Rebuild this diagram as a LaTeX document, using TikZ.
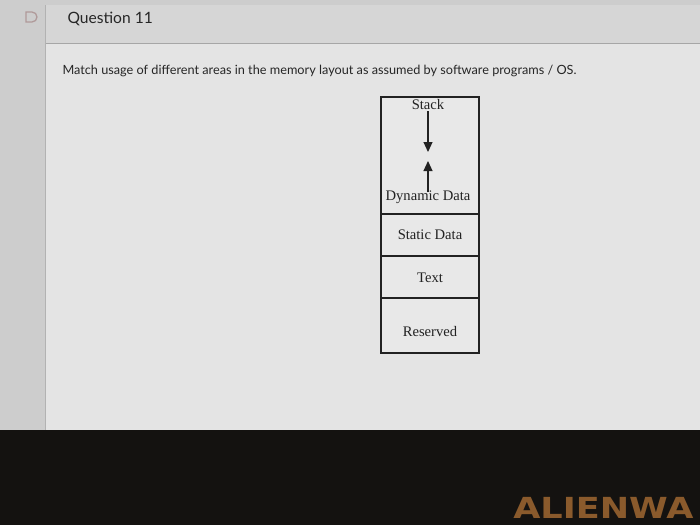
\documentclass[tikz,border=0pt]{standalone}
\usepackage{fontspec}
\setmainfont{Liberation Serif}
\newfontfamily\uifont{Lato}
\newfontfamily\logofont{DejaVu Sans}
\usetikzlibrary{arrows.meta}
\definecolor{screengray}{HTML}{CDCDCD}
\definecolor{headgray}{HTML}{D6D6D6}
\definecolor{bodygray}{HTML}{E4E4E4}
\definecolor{cellgray}{HTML}{E8E8E8}
\definecolor{bezel}{HTML}{141210}
\definecolor{logobrown}{HTML}{8A5A2C}
\definecolor{inktext}{HTML}{222222}
\definecolor{iconline}{HTML}{B09A9A}

\begin{document}
\begin{tikzpicture}[x=1pt,y=-1pt]
\tikzstyle{cell}=[draw=inktext, line width=1.2pt, fill=cellgray, minimum width=98pt, inner sep=0pt]
\tikzstyle{memtext}=[font=\fontsize{14.6}{16}\selectfont, text=inktext, inner sep=1pt]
\tikzstyle{growarrow}=[-{Triangle[width=9pt,length=10pt]}, draw=inktext, line width=1.1pt]

\useasboundingbox (0,0) rectangle (700,525);
\clip (0,0) rectangle (700,525);

% screen and bezel
\fill[screengray] (0,0) rectangle (700,430);
\fill[headgray] (45,5) rectangle (700,43);
\draw[gray!70, line width=0.8pt] (45,43) -- (700,43);
\draw[gray!60, line width=0.6pt] (45,5) -- (45,430);
\fill[bodygray] (46,44) rectangle (700,430);
\fill[bezel] (0,430) rectangle (700,525);

% header
\draw[iconline, line width=1.3pt] (26,12) -- (32,12) arc (-90:90:5) -- (26,22) -- cycle;
\node[anchor=west, font=\uifont\fontsize{15.6}{18}\selectfont, text=black!85] (title) at (64,19) {Question 11};
\node[anchor=west, font=\uifont\fontsize{12.7}{15}\selectfont, text=black!85] (prompt) at (59,71)
  {Match usage of different areas in the memory layout as assumed by software programs / OS.};

% memory layout
\node[cell, minimum height=117pt] (heap) at (430,155.5) {};
\node[cell, minimum height=42pt] (static) at (430,235) {};
\node[cell, minimum height=42pt] (text) at (430,277) {};
\node[cell, minimum height=55pt] (reserved) at (430,325.5) {};

\node[memtext] (stack) at (428,105) {Stack};
\node[memtext] (dyn) at (428,197) {Dynamic Data};
\node[memtext] (statictext) at (static) {Static Data};
\node[memtext] (texttext) at (430,278) {Text};
\node[memtext] (reservedtext) at (430,331) {Reserved};

\coordinate (downtip) at (428,152);
\coordinate (upbase) at (428,192);
\coordinate (uptip) at (428,161);
\draw[growarrow] (stack.south) -- (downtip);
\draw[growarrow] (upbase) -- (uptip);

% bezel logo
\node[anchor=west, font=\logofont\bfseries\fontsize{29}{30}\selectfont, text=logobrown, inner sep=0pt, xscale=1.21] (logo) at (513,508) {ALIENWA};
\end{tikzpicture}
\end{document}
